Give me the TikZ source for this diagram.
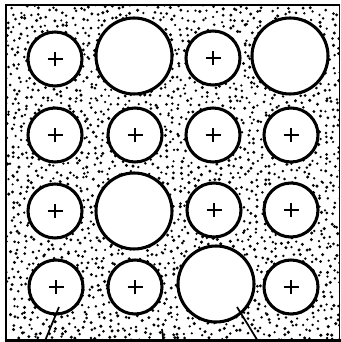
\documentclass[tikz,border=0pt]{standalone}
\begin{document}
\begin{tikzpicture}[x=0.75pt,y=-0.75pt,
  ring/.style={circle,draw,line width=2.3pt,inner sep=0pt,fill=none},
  smallring/.style={ring,minimum size=40.5pt},
  bigring/.style={ring,minimum size=57pt},
  plusline/.style={line width=2.2pt},
  frameline/.style={line width=1.5pt},
  leader/.style={line width=1.3pt},
  dot/.style={fill=black}]
\useasboundingbox (0,0) rectangle (341,342);
% stipple
\begin{scope}[even odd rule]
\clip (5.5,5) rectangle (339.5,340)
  (55,59) circle[radius=27] (213,58) circle[radius=27]
  (55,135) circle[radius=27] (135,135) circle[radius=27] (213,135) circle[radius=27] (291,135) circle[radius=27]
  (55,211) circle[radius=27] (214,210) circle[radius=27] (291,210) circle[radius=27]
  (56,287) circle[radius=27] (135,287) circle[radius=27] (291,287) circle[radius=27]
  (134,56) circle[radius=38] (290,56) circle[radius=38] (134,211) circle[radius=38] (216,284) circle[radius=38];
\pgfmathsetseed{7}
\foreach \i in {0,...,48}{
  \foreach \j in {0,...,48}{
    \pgfmathsetmacro{\px}{6+\i*6.95+3.1*rand}
    \pgfmathsetmacro{\py}{6+\j*6.95+3.1*rand}
    \pgfmathsetmacro{\pr}{1.2+0.55*rnd}
    \fill[dot] (\px,\py) circle[radius=\pr];
  }
}
\end{scope}
% frame
\draw[frameline] (5.5,4) -- (5.5,341);
\draw[line width=1.4pt] (4.8,5) -- (340,5);
\draw[line width=0.8pt] (339.5,5) -- (339.5,341);
\draw[line width=2.2pt] (4.8,340.5) -- (341,340.5);
% rings with plus
\foreach \n/\x/\y in {s1/55/59, s2/213/58, s3/55/135, s4/135/135, s5/213/135, s6/291/135,
  s7/55/211, s8/214/210, s9/291/210, s10/56/287, s11/135/287, s12/291/287}{
  \node[smallring] (\n) at (\x,\y) {};
  \draw[plusline] (\n.center) +(-7.5,0) -- +(7.5,0);
  \draw[plusline] (\n.center) +(0,-6.8) -- +(0,6.8);
}
\foreach \n/\x/\y in {b1/134/56, b2/290/56, b3/134/211, b4/216/284}{
  \node[bigring] (\n) at (\x,\y) {};
}
% leader lines
\coordinate (l1a) at (59,307);
\coordinate (l1b) at (44.5,342);
\coordinate (l2a) at (162,329);
\coordinate (l2b) at (163.5,342);
\coordinate (l3a) at (237,307);
\coordinate (l3b) at (258.5,342);
\draw[leader] (l1a) -- (l1b);
\draw[leader] (l2a) -- (l2b);
\draw[leader] (l3a) -- (l3b);
\end{tikzpicture}
\end{document}
